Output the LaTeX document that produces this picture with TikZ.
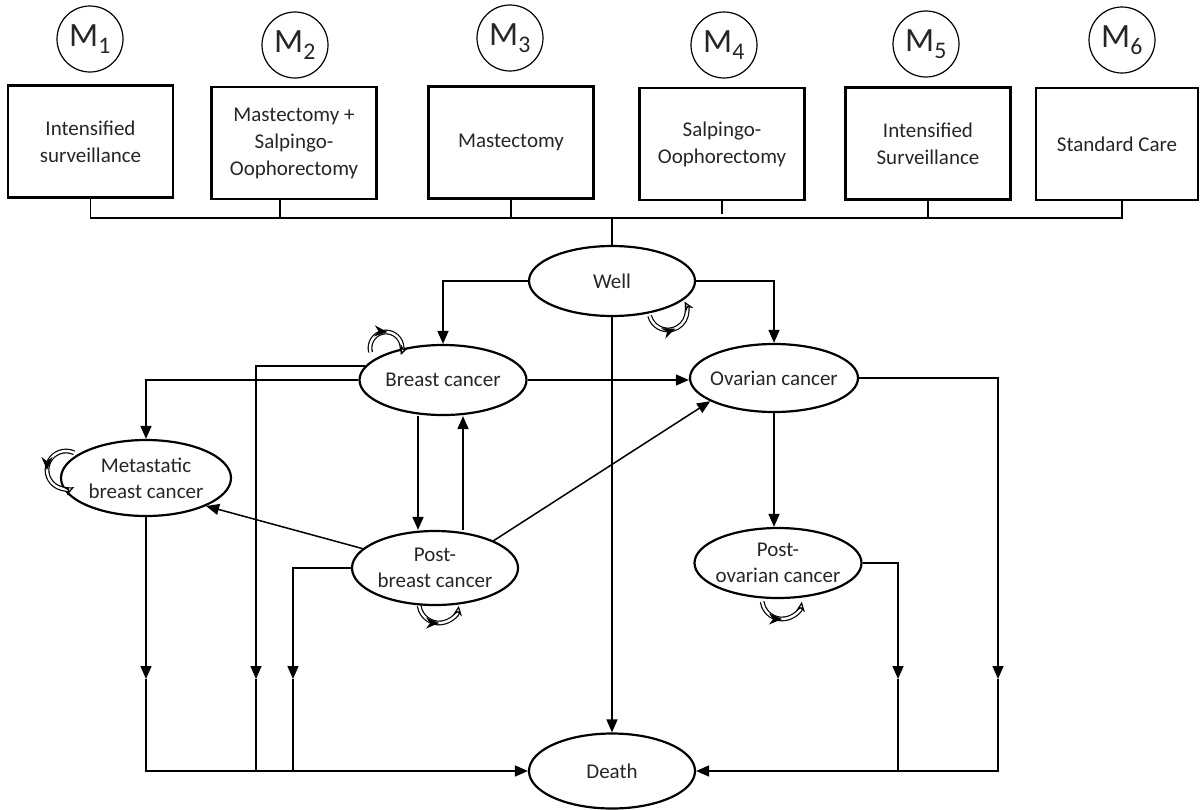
\documentclass[tikz,border=0pt]{standalone}
\usepackage{fontspec}
\setmainfont{Carlito}
\usetikzlibrary{shapes.geometric,arrows.meta,decorations.markings}

\begin{document}
\begin{tikzpicture}[x=1pt,y=-1pt,
    box/.style={draw,line width=2.4pt,minimum width=165pt,minimum height=112pt,align=center,text=black!85,font=\fontsize{21}{27}\selectfont},
    mnode/.style={circle,draw,line width=1.2pt,minimum size=66pt,inner sep=0pt,text=black!85,font=\fontsize{34}{38}\selectfont},
    state/.style={ellipse,draw,line width=2.2pt,inner xsep=-20pt,inner ysep=0pt,align=center,minimum width=166pt,minimum height=70pt,text=black!85,font=\fontsize{21}{26}\selectfont},
    link/.style={line width=1.5pt},
    arr/.style={line width=1.5pt,-{Triangle[length=13pt,width=11pt]}},
    selfloop/.style={double,double distance=2.4pt,line width=1.2pt,-{Stealth[open,length=10pt,width=9pt]},
        postaction={decorate,decoration={markings,mark=at position 0.5 with {\arrow[line width=1pt]{Stealth[length=13pt,width=11pt]}}}}}]

    \useasboundingbox (0,0) rectangle (1201,809);

    % strategies
    \node[box] (b1) at (90.5,141.5) {Intensified\\surveillance};
    \node[box] (b2) at (294,143) {Mastectomy +\\Salpingo-\\Oophorectomy};
    \node[box] (b3) at (511,142.5) {Mastectomy};
    \node[box] (b4) at (722,144) {Salpingo-\\Oophorectomy};
    \node[box] (b5) at (928,143.5) {Intensified\\Surveillance};
    \node[box,minimum width=162pt] (b6) at (1117,144) {Standard Care};

    \node[mnode] (m1) at (90,39) {M\textsubscript{1}};
    \node[mnode] (m2) at (295,45) {M\textsubscript{2}};
    \node[mnode] (m3) at (510,38) {M\textsubscript{3}};
    \node[mnode] (m4) at (724,45) {M\textsubscript{4}};
    \node[mnode] (m5) at (926,44) {M\textsubscript{5}};
    \node[mnode] (m6) at (1122,40) {M\textsubscript{6}};

    % health states
    \node[state] (well) at (612,281) {Well};
    \node[state,minimum width=167pt] (bc) at (443,380) {Breast cancer};
    \node[state,minimum width=168pt,minimum height=68pt] (oc) at (774,378) {Ovarian cancer};
    \node[state,minimum width=170pt,minimum height=76pt] (meta) at (146,478) {Metastatic\\breast cancer};
    \node[state,minimum height=74pt] (pbc) at (435,568) {Post-\\breast cancer};
    \node[state,minimum width=167pt] (poc) at (778,563) {Post-\\ovarian cancer};
    \node[state,minimum height=75pt] (death) at (612,771) {Death};

    % bus to the strategies
    \coordinate (bus) at (612,218);
    \coordinate (d2) at ([xshift=-14pt]b2.south);
    \coordinate (d6) at ([xshift=5pt]b6.south);
    \draw[link] (b1.south) -- (b1.south |- bus) -- (d6 |- bus) -- (d6);
    \draw[link] (d2) -- (d2 |- bus);
    \draw[link] (b3.south) -- (b3.south |- bus);
    \draw[link] (b4.south) -- ([yshift=4pt]b4.south |- bus);
    \draw[link] (b5.south) -- (b5.south |- bus);
    \draw[link] (well.north) -- (bus);

    % transitions
    \draw[arr] (well.west) -| (bc.north);
    \draw[arr] (well.east) -| (oc.north);
    \draw[arr] (well.south) -- (death.north);
    \draw[arr] (bc.east) -- (bc.east -| oc.west);
    \draw[arr] (bc.west) -| (meta.north);
    \draw[arr] ([xshift=-25pt]bc.south) -- ([xshift=-17pt]pbc.north);
    \draw[arr] ([xshift=28pt]pbc.north) -- ([xshift=20pt]bc.south);
    \draw[arr] (pbc.165) -- (meta.-25);
    \draw[arr] (pbc.25) -- (oc.200);
    \draw[arr] (oc.south) -- (oc.south |- poc.north);

    % to death
    \coordinate (jm) at (146,679);
    \coordinate (jb) at (256,679);
    \coordinate (jp) at (293,679);
    \coordinate (jq) at (898,679);
    \coordinate (jo) at (998,679);
    \draw[arr] (meta.south) -- (jm);
    \draw[arr] (jm) |- (death.west);
    \draw[arr] (bc.170) -| (jb);
    \draw[link] (jb) -- (jb |- death.west);
    \draw[arr] (pbc.west) -| (jp);
    \draw[link] (jp) -- (jp |- death.west);
    \draw[arr] (oc.east) -| (jo);
    \draw[arr] (jo) |- (death.east);
    \draw[arr] (poc.east) -| (jq);
    \draw[link] (jq) -- (jq |- death.east);

    % staying in the same state
    \draw[selfloop] (668,311) ++(165:19) arc[start angle=165,end angle=-30,radius=19];
    \draw[selfloop] (386,348) ++(165:16) arc[start angle=165,end angle=385,radius=16];
    \draw[selfloop] (66,470) ++(295:19) arc[start angle=295,end angle=65,radius=19];
    \draw[selfloop] (439,603) ++(172:20) arc[start angle=172,end angle=8,radius=20];
    \draw[selfloop] (782,599) ++(172:20) arc[start angle=172,end angle=8,radius=20];
\end{tikzpicture}
\end{document}
